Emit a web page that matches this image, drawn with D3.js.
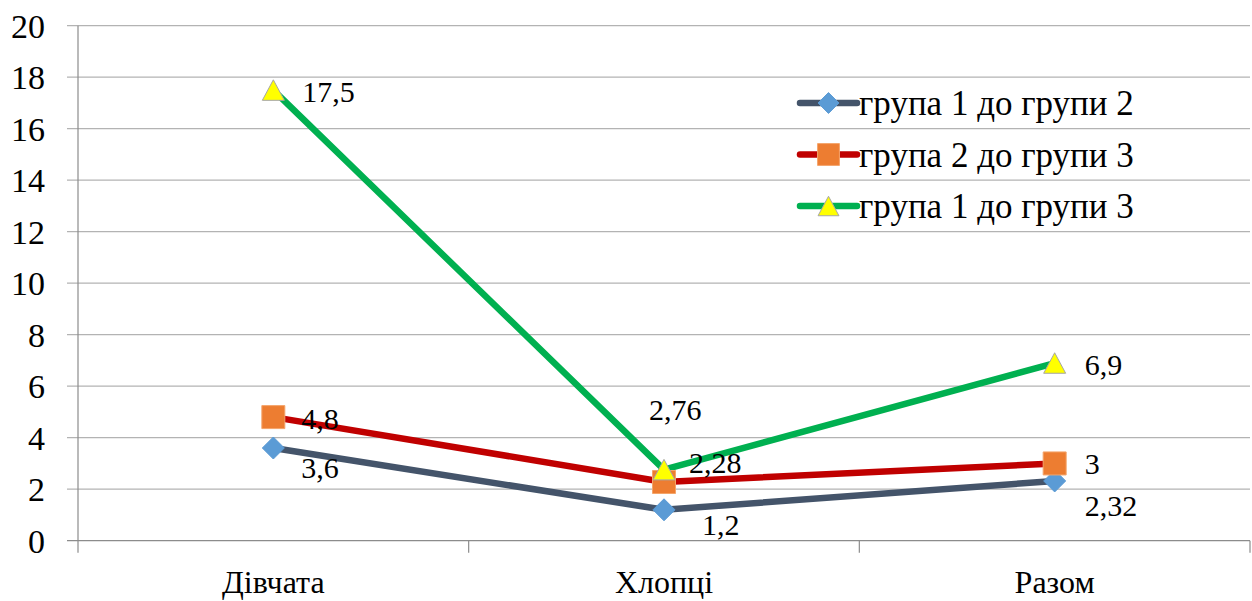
<!DOCTYPE html>
<html>
<head>
<meta charset="utf-8">
<script src="https://cdn.jsdelivr.net/npm/d3@7"></script>
<style>
  text { font-family: "Times New Roman", "Liberation Serif", Tinos, serif; }
</style>
</head>
<body style="margin:0">
<script>
const categories = ["Дівчата", "Хлопці", "Разом"];
const seriesNames = ["група 1 до групи 2", "група 2 до групи 3", "група 1 до групи 3"];
const group1to2 = [3.6, 1.2, 2.32];
const group2to3 = [4.8, 2.28, 3];
const group1to3 = [17.5, 2.76, 6.9];
const yTicks = [0, 2, 4, 6, 8, 10, 12, 14, 16, 18, 20];

const width = 1252;
const height = 601;
const margin = { top: 25.7, right: 2, bottom: 60.3, left: 78 };

const series = [
  { name: seriesNames[0], values: group1to2, line: "#44546a", fill: "#5b9bd5", stroke: "#5b9bd5", shape: "diamond",
    // label offsets from the point (px)
    offsets: [[28, 19], [38, 15], [30, 25]] },
  { name: seriesNames[1], values: group2to3, line: "#c00000", fill: "#ed7d31", stroke: "#f4a46a", shape: "square",
    offsets: [[28, 1], [25, -19], [30, 0]] },
  { name: seriesNames[2], values: group1to3, line: "#00b050", fill: "#ffff00", stroke: "#a6a6a6", shape: "triangle",
    offsets: [[29, 1], [-15, -60], [30, 1]] }
];

// marker path for a given shape, scale k
function marker(shape, k = 1) {
  if (shape === "diamond") {
    const r = 11 * k;
    return `M0,${-r}L${r},0L0,${r}L${-r},0Z`;
  }
  if (shape === "square") {
    const r = 11.5 * k;
    return `M${-r},${-r}H${r}V${r}H${-r}Z`;
  }
  const w = 11 * k, h = 20.5 * k;
  return `M0,${-h / 2}L${w},${h / 2}L${-w},${h / 2}Z`;
}

const svg = d3.select("body").append("svg")
  .attr("width", width)
  .attr("height", height)
  .attr("font-family", "Times New Roman");

const x = d3.scaleBand()
  .domain(categories)
  .range([margin.left, width - margin.right]);

const y = d3.scaleLinear()
  .domain([0, 20])
  .range([height - margin.bottom, margin.top]);

// horizontal gridlines
svg.append("g")
  .selectAll("line")
  .data(yTicks)
  .join("line")
  .attr("x1", margin.left - 11)
  .attr("x2", width - margin.right)
  .attr("y1", d => y(d))
  .attr("y2", d => y(d))
  .attr("stroke", d => d === 0 ? "#8c8c8c" : "#b3b3b3")
  .attr("stroke-width", 1.2);

// y axis line
svg.append("line")
  .attr("x1", margin.left).attr("x2", margin.left)
  .attr("y1", y(20)).attr("y2", y(0) + 12)
  .attr("stroke", "#8c8c8c").attr("stroke-width", 1.2);

// category boundary ticks
svg.append("g")
  .selectAll("line")
  .data(categories)
  .join("line")
  .attr("x1", d => x(d) + x.bandwidth())
  .attr("x2", d => x(d) + x.bandwidth())
  .attr("y1", y(0))
  .attr("y2", y(0) + 12)
  .attr("stroke", "#8c8c8c")
  .attr("stroke-width", 1.2);

const cx = (d, i) => x(categories[i]) + x.bandwidth() / 2;

const line = d3.line()
  .x((d, i) => cx(d, i))
  .y(d => y(d));

series.forEach(s => {
  svg.append("path")
    .attr("d", line(s.values))
    .attr("fill", "none")
    .attr("stroke", s.line)
    .attr("stroke-width", 6.5)
    .attr("stroke-linejoin", "round")
    .attr("stroke-linecap", "round");
});

series.forEach(s => {
  svg.append("g")
    .selectAll("path")
    .data(s.values)
    .join("path")
    .attr("transform", (d, i) => `translate(${cx(d, i)},${y(d)})`)
    .attr("d", marker(s.shape))
    .attr("fill", s.fill)
    .attr("stroke", s.stroke)
    .attr("stroke-width", 1);
});

// legend
const legend = svg.append("g")
  .attr("transform", "translate(800, 103)");

const rows = legend.selectAll("g")
  .data(series)
  .join("g")
  .attr("transform", (d, i) => `translate(0, ${i * 51.5})`);

rows.append("line")
  .attr("x1", 0).attr("x2", 57)
  .attr("stroke", d => d.line)
  .attr("stroke-width", 6.5)
  .attr("stroke-linecap", "round");

rows.append("path")
  .attr("transform", "translate(28.5, 0)")
  .attr("d", d => marker(d.shape, 0.95))
  .attr("fill", d => d.fill)
  .attr("stroke", d => d.stroke)
  .attr("stroke-width", 1);

rows.append("text")
  .attr("x", 59)
  .attr("y", 12)
  .attr("font-size", 35)
  .attr("font-family", "Times New Roman")
  .text(d => d.name);

// y tick labels
svg.append("g")
  .selectAll("text")
  .data(yTicks)
  .join("text")
  .attr("x", 45)
  .attr("y", d => y(d))
  .attr("dy", "0.35em")
  .attr("text-anchor", "end")
  .attr("font-size", 34)
  .attr("font-family", "Times New Roman")
  .text(d => d);

// category labels
svg.append("g")
  .selectAll("text")
  .data(categories)
  .join("text")
  .attr("x", d => x(d) + x.bandwidth() / 2)
  .attr("y", 593)
  .attr("text-anchor", "middle")
  .attr("font-size", 32)
  .attr("font-family", "Times New Roman")
  .text(d => d);

// data labels
series.forEach(s => {
  svg.append("g")
    .selectAll("text")
    .data(s.values)
    .join("text")
    .attr("x", (d, i) => cx(d, i) + s.offsets[i][0])
    .attr("y", (d, i) => y(d) + s.offsets[i][1])
    .attr("dy", "0.35em")
    .attr("font-size", 30)
    .attr("font-family", "Times New Roman")
    .text(d => String(d).replace(".", ","));
});
</script>
</body>
</html>
